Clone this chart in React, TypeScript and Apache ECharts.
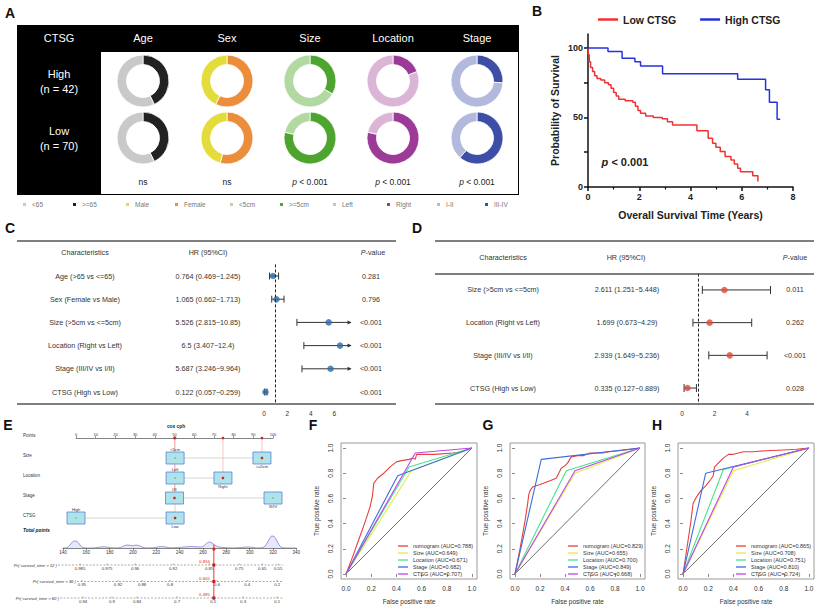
import React, { useEffect, useRef } from "react";
import * as echarts from "echarts";

const FONT = '"Liberation Sans", Arial, Helvetica, sans-serif';

/* ---------------- Panel A : clinical composition ---------------- */
const pieFactors = ["Age", "Sex", "Size", "Location", "Stage"];
const pieLevelLight = ["<65", "Male", "<5cm", "Left", "I-II"];
const pieLevelDark = [">=65", "Female", ">=5cm", "Right", "III-IV"];
const highDarkCounts = [18, 24, 14, 8, 11];
const highLightCounts = [24, 18, 28, 34, 31];
const lowDarkCounts = [30, 38, 55, 55, 43];
const lowLightCounts = [40, 32, 15, 15, 27];
const piePValues = ["ns", "ns", "< 0.001", "< 0.001", "< 0.001"];
const groupLabels = ["High", "Low"];
const groupSizes = ["(n = 42)", "(n = 70)"];

/* ---------------- Panel B : Kaplan-Meier ---------------- */
const lowTimes = [0, 0.02, 0.05, 0.1, 0.18, 0.26, 0.35, 0.5, 0.65, 0.8, 0.9, 1.0, 1.1, 1.2, 1.45, 1.75, 1.85, 1.95, 2.05, 2.25, 2.55, 2.9, 3.1, 3.3, 4.25, 4.69, 4.86, 4.99, 5.16, 5.35, 5.58, 5.71, 5.84, 5.95, 6.43, 6.63];
const lowSurv = [100, 95, 90, 86, 83, 80, 78, 77, 75, 73.5, 71, 68, 65.5, 63, 62, 61, 58, 55, 53, 51, 50, 49, 47, 44.5, 40.5, 35, 31.5, 28.5, 25.5, 22, 19.5, 16.5, 13.5, 11, 8, 4];
const highTimes = [0, 0.78, 1.33, 1.83, 2.05, 2.91, 5.84, 6.93, 7.08, 7.38, 7.5];
const highSurv = [100, 97.5, 92.5, 90, 87, 81.5, 77.5, 70, 61, 48.7, 48.7];
const kmXTicks = [0, 2, 4, 6, 8];
const kmYLabels = [0, 50, 100];
const kmYTicks = [0, 25, 50, 75, 100];

/* ---------------- Panel C : univariate Cox ---------------- */
const cChars = ["Age (>65 vs <=65)", "Sex (Female vs Male)", "Size (>5cm vs <=5cm)", "Location (Right vs Left)", "Stage (III/IV vs I/II)", "CTSG (High vs Low)"];
const cHR = [0.764, 1.065, 5.526, 6.5, 5.687, 0.122];
const cLow = [0.469, 0.662, 2.815, 3.407, 3.246, 0.057];
const cHigh = [1.245, 1.713, 10.85, 12.4, 9.964, 0.259];
const cP = ["0.281", "0.796", "<0.001", "<0.001", "<0.001", "<0.001"];
const cTicks = [0, 2, 4, 6];

/* ---------------- Panel D : multivariate Cox ---------------- */
const dChars = ["Size (>5cm vs <=5cm)", "Location (Right vs Left)", "Stage (III/IV vs I/II)", "CTSG (High vs Low)"];
const dHR = [2.611, 1.699, 2.939, 0.335];
const dLow = [1.251, 0.673, 1.649, 0.127];
const dHigh = [5.448, 4.29, 5.236, 0.889];
const dP = ["0.011", "0.262", "<0.001", "0.028"];
const dTicks = [0, 2, 4];

/* ---------------- Panel E : nomogram ---------------- */
const nomoRowNames = ["Points", "Size", "Location", "Stage", "CTSG"];
const nomoLevels = ["<5cm", ">=5cm", "Left", "Right", "I/II", "III/IV", "High", "Low"];
const nomoLevelFactor = [0, 0, 1, 1, 2, 2, 3, 3];
const nomoLevelPoints = [50.3, 94.4, 50.3, 74.6, 50, 100, 0, 50.3];
const nomoSelected = [0, 1, 0, 1, 1, 0, 0, 1];
const totalDensity = [[140, 0], [143, 0.3], [146, 3], [148, 6], [150, 7], [152, 6.5], [154, 4], [156, 1.2], [158, 0.2], [162, 0], [168, 0.2], [172, 1], [175, 1.2], [178, 0.8], [182, 0.1], [188, 0.2], [192, 2], [195, 3], [198, 2.5], [200, 2.3], [202, 2.8], [205, 2.5], [208, 0.8], [212, 0.1], [218, 0.3], [222, 1.2], [225, 1.4], [228, 1], [232, 0.2], [238, 0.4], [242, 0.8], [246, 1.2], [250, 1.5], [254, 1.2], [258, 1], [261, 2.5], [263, 4.5], [265, 6], [267, 5.5], [270, 3], [273, 1.2], [278, 0.4], [285, 0.1], [292, 0.4], [296, 0.8], [299, 1], [302, 0.6], [306, 0.1], [310, 0.2], [313, 1.5], [315, 5], [317, 9], [319, 12], [321, 11.5], [323, 8], [325, 3.5], [327, 0.8], [330, 0.1], [335, 0], [340, 0]];
const prLabels = ["Pr( survival_time > 12 )", "Pr( survival_time > 36 )", "Pr( survival_time > 60 )"];
const prTickPos = [
  [154.6, 177.8, 201.8, 234.4, 265.3, 291, 310.8, 324.5],
  [156.3, 187.2, 207.8, 231.8, 272.1, 297.9, 323.6],
  [157.2, 182, 203.5, 237.8, 268.7, 294.4, 323.6],
];
const prTickText = [
  ["0.985", "0.975", "0.96", "0.92", "0.85", "0.75", "0.65", "0.55"],
  ["0.95", "0.92", "0.88", "0.8", "0.6", "0.4", "0.2"],
  ["0.94", "0.9", "0.84", "0.7", "0.5", "0.3", "0.1"],
];
const prPredicted = ["0.834", "0.605", "0.495"];

/* ---------------- Panels F, G, H : ROC ---------------- */
const rocModels = ["nomogram", "Size", "Location", "Stage", "CTSG"];
const rocF_auc = ["0.788", "0.649", "0.671", "0.682", "0.707"];
const rocG_auc = ["0.829", "0.655", "0.700", "0.849", "0.668"];
const rocH_auc = ["0.865", "0.708", "0.751", "0.810", "0.724"];
const rocF_nomogram = [[0, 0], [0.05, 0.13], [0.1, 0.27], [0.15, 0.41], [0.19, 0.53], [0.21, 0.62], [0.22, 0.72], [0.25, 0.76], [0.3, 0.8], [0.35, 0.85], [0.4, 0.89], [0.44, 0.9], [0.5, 0.91], [0.53, 0.92], [0.55, 0.91], [0.56, 0.95], [0.7, 0.95], [0.85, 0.96], [0.92, 0.97], [1, 1]];
const rocF_size = [[0, 0], [0.52, 0.82], [1, 1]];
const rocF_location = [[0, 0], [0.5, 0.85], [1, 1]];
const rocF_stage = [[0, 0], [0.41, 0.78], [1, 1]];
const rocF_ctsg = [[0, 0], [0.55, 0.96], [1, 1]];
const rocG_nomogram = [[0, 0], [0.04, 0.2], [0.08, 0.42], [0.1, 0.55], [0.11, 0.63], [0.12, 0.66], [0.14, 0.69], [0.2, 0.71], [0.28, 0.74], [0.33, 0.76], [0.35, 0.8], [0.37, 0.84], [0.4, 0.86], [0.42, 0.88], [0.45, 0.93], [0.5, 0.94], [0.55, 0.94], [0.6, 0.96], [0.7, 0.96], [0.75, 0.97], [0.85, 0.98], [1, 1]];
const rocG_size = [[0, 0], [0.48, 0.8], [1, 1]];
const rocG_location = [[0, 0], [0.41, 0.82], [1, 1]];
const rocG_stage = [[0, 0], [0.21, 0.91], [1, 1]];
const rocG_ctsg = [[0, 0], [0.48, 0.82], [1, 1]];
const rocH_nomogram = [[0, 0], [0.03, 0.2], [0.06, 0.4], [0.08, 0.56], [0.1, 0.6], [0.14, 0.66], [0.18, 0.7], [0.22, 0.75], [0.24, 0.78], [0.25, 0.85], [0.27, 0.87], [0.3, 0.9], [0.32, 0.92], [0.36, 0.95], [0.4, 0.95], [0.44, 0.96], [0.48, 0.97], [0.55, 0.97], [0.6, 0.975], [0.7, 0.98], [0.8, 0.985], [0.9, 0.99], [1, 1]];
const rocH_size = [[0, 0], [0.4, 0.82], [1, 1]];
const rocH_location = [[0, 0], [0.32, 0.83], [1, 1]];
const rocH_stage = [[0, 0], [0.18, 0.8], [1, 1]];
const rocH_ctsg = [[0, 0], [0.4, 0.85], [1, 1]];
const rocDiagonal = [[0, 0], [1, 1]];
const rocTicks = [0, 0.2, 0.4, 0.6, 0.8, 1];

/* ---------------- styles / layout ---------------- */
const pieLightColors = ["#c9c9c9", "#e4dc3a", "#b2d9a2", "#dbb5d6", "#b2b9dc"];
const pieDarkColors = ["#222222", "#ec8d3b", "#4da42f", "#9b3a97", "#3d4ea6"];
const pieCols = [143, 227, 310, 393, 477];
const pieRows = [81, 138];
const pieLegendX = [21, 71, 124, 173, 228, 278, 331, 385, 435, 483];
const rocColors = ["#e8403c", "#dcee4a", "#44e48c", "#3a6ee0", "#c444e8"];

function buildOption(): any {
  const grid: any[] = [];
  const xAxis: any[] = [];
  const yAxis: any[] = [];
  const series: any[] = [];
  const legend: any[] = [];
  const graphic: any[] = [];

  const addText = (x: number, y: number, t: string, s: any = {}) => {
    const { align = "center", verticalAlign = "middle", z = 10, ...rest } = s;
    graphic.push({
      type: "text", x, y, z, silent: true,
      style: { text: t, x: 0, y: 0, fill: "#222", fontSize: 8, fontFamily: FONT, align, textAlign: align, verticalAlign, textVerticalAlign: verticalAlign, ...rest },
    });
  };
  const addLine = (x1: number, y1: number, x2: number, y2: number, stroke = "#444", lineWidth = 1, lineDash?: number[]) => {
    graphic.push({ type: "line", z: 8, silent: true, shape: { x1, y1, x2, y2 }, style: { stroke, lineWidth, lineDash } });
  };
  const addRect = (x: number, y: number, width: number, height: number, fill: string) => {
    graphic.push({ type: "rect", z: 0, silent: true, shape: { x, y, width, height }, style: { fill } });
  };
  const italicP = (size: number, extra: any = {}) => ({ i: { fontStyle: "italic", fontSize: size, fontFamily: FONT, fill: "#222", ...extra } });

  /* panel letters */
  ([["A", 10, 13], ["B", 537, 11], ["C", 10, 228], ["D", 417, 228], ["E", 8, 425], ["F", 313, 425], ["G", 488, 425], ["H", 657, 425]] as any[]).forEach(([t, x, y]) =>
    addText(x, y, t, { fontSize: 14, fontWeight: "bold", fill: "#111" })
  );

  /* ================= A ================= */
  addRect(17, 25, 502, 170, "#000");
  addRect(101, 52, 417, 142, "#fff");
  addText(59, 38, "CTSG", { fill: "#fff", fontSize: 11 });
  pieFactors.forEach((f, i) => addText(pieCols[i], 38, f, { fill: "#fff", fontSize: 11 }));
  groupLabels.forEach((g, r) => {
    addText(59, pieRows[r] - 7, g, { fill: "#fff", fontSize: 11 });
    addText(59, pieRows[r] + 8, groupSizes[r], { fill: "#fff", fontSize: 11 });
  });
  const darkRows = [highDarkCounts, lowDarkCounts];
  const lightRows = [highLightCounts, lowLightCounts];
  pieFactors.forEach((f, i) => {
    [0, 1].forEach((r) => {
      series.push({
        type: "pie", name: f + " " + groupLabels[r], center: [pieCols[i], pieRows[r]], radius: [16.5, 26],
        startAngle: 90, clockwise: true, silent: true, z: 2,
        label: { show: false }, labelLine: { show: false }, emphasis: { disabled: true },
        itemStyle: { borderColor: "#fff", borderWidth: 0.8 },
        data: [
          { name: pieLevelDark[i], value: darkRows[r][i], itemStyle: { color: pieDarkColors[i] } },
          { name: pieLevelLight[i], value: lightRows[r][i], itemStyle: { color: pieLightColors[i] } },
        ],
      });
    });
    const pv = piePValues[i];
    if (pv === "ns") addText(pieCols[i], 182, "ns", { fontSize: 8.5 });
    else addText(pieCols[i], 182, "{i|p} " + pv, { fontSize: 8.5, rich: italicP(8.5) });
  });
  const legendNames: string[] = [];
  pieFactors.forEach((_, i) => { legendNames.push(pieLevelLight[i]); legendNames.push(pieLevelDark[i]); });
  legendNames.forEach((n, k) => {
    legend.push({
      left: pieLegendX[k], top: 201, padding: 0, icon: "rect", itemWidth: 5, itemHeight: 5, selectedMode: false,
      data: [n], textStyle: { fontSize: 6.5, color: "#777", fontFamily: FONT },
    });
  });

  /* ================= B (grid 0) ================= */
  grid.push({ left: 588, top: 34, width: 205, height: 153 });
  xAxis.push({
    gridIndex: 0, type: "value", min: 0, max: 8, interval: 2,
    axisLine: { lineStyle: { color: "#111", width: 1.5 } },
    axisTick: { length: 4, lineStyle: { color: "#111", width: 1.5 } },
    minorTick: { show: true, splitNumber: 2, length: 2.5, lineStyle: { color: "#111", width: 1.2 } },
    splitLine: { show: false },
    axisLabel: { fontSize: 9, fontWeight: "bold", color: "#222", margin: 5, customValues: kmXTicks },
    name: "Overall Survival Time (Years)", nameLocation: "middle", nameGap: 22,
    nameTextStyle: { fontSize: 10.5, fontWeight: "bold", color: "#222" },
  });
  yAxis.push({
    gridIndex: 0, type: "value", min: 0, max: 110,
    axisLine: { show: true, lineStyle: { color: "#111", width: 1.5 } },
    axisTick: { show: true, length: 4, customValues: kmYTicks, lineStyle: { color: "#111", width: 1.5 } },
    splitLine: { show: false },
    axisLabel: { fontSize: 9, fontWeight: "bold", color: "#222", margin: 5, customValues: kmYLabels },
    name: "Probability of Survival", nameLocation: "middle", nameGap: 28, nameRotate: 90,
    nameTextStyle: { fontSize: 10.5, fontWeight: "bold", color: "#222" },
  });
  series.push({
    type: "line", name: "Low CTSG", xAxisIndex: 0, yAxisIndex: 0, step: "end", symbol: "none", silent: true,
    color: "#f03232", lineStyle: { width: 1.5 }, data: lowTimes.map((t, i) => [t, lowSurv[i]]),
  });
  series.push({
    type: "line", name: "High CTSG", xAxisIndex: 0, yAxisIndex: 0, step: "end", symbol: "none", silent: true,
    color: "#2432e0", lineStyle: { width: 1.5 }, data: highTimes.map((t, i) => [t, highSurv[i]]),
  });
  legend.push({
    left: 598, top: 14, padding: 0, icon: "rect", itemWidth: 20, itemHeight: 2.5, itemGap: 24, selectedMode: false,
    data: ["Low CTSG", "High CTSG"], textStyle: { fontSize: 10.5, fontWeight: "bold", color: "#222", fontFamily: FONT },
  });
  addText(625, 162, "{i|p} < 0.001", { fontSize: 11, fontWeight: "bold", rich: italicP(11, { fontWeight: "bold" }) });

  /* ================= forest helper ================= */
  const makeForest = (gi: number, left: number, top: number, pxPerUnit: number, axisMax: number, rowH: number,
    chars: string[], hr: number[], lo: number[], hi: number[], ticks: number[], color: string, capH: number) => {
    grid.push({ left, top, width: axisMax * pxPerUnit, height: rowH * chars.length });
    xAxis.push({
      gridIndex: gi, type: "value", min: 0, max: axisMax,
      axisLine: { show: false }, axisTick: { show: false }, splitLine: { show: false },
      axisLabel: { fontSize: 6.5, color: "#333", margin: 6, customValues: ticks },
    });
    yAxis.push({ gridIndex: gi, type: "category", data: chars, inverse: true, show: false });
    series.push({
      type: "custom", xAxisIndex: gi, yAxisIndex: gi, clip: false, silent: true, z: 3,
      encode: { x: [1, 2], y: 0 },
      data: lo.map((l, i) => [i, l, hi[i]]),
      renderItem: (params: any, api: any) => {
        const cat = api.value(0);
        const l = api.value(1);
        const h = api.value(2);
        const trunc = h > axisMax;
        const a = api.coord([l, cat]);
        const b = api.coord([trunc ? axisMax : h, cat]);
        const st = { stroke: "#333", lineWidth: 1 };
        const kids: any[] = [
          { type: "line", shape: { x1: a[0], y1: a[1], x2: b[0], y2: b[1] }, style: st },
          { type: "line", shape: { x1: a[0], y1: a[1] - capH, x2: a[0], y2: a[1] + capH }, style: st },
        ];
        if (trunc) kids.push({ type: "polygon", shape: { points: [[b[0] + 1, b[1]], [b[0] - 3, b[1] - 2], [b[0] - 3, b[1] + 2]] }, style: { fill: "#333" } });
        else kids.push({ type: "line", shape: { x1: b[0], y1: b[1] - capH, x2: b[0], y2: b[1] + capH }, style: st });
        return { type: "group", children: kids };
      },
    });
    series.push({
      type: "scatter", xAxisIndex: gi, yAxisIndex: gi, silent: true, z: 4, symbolSize: 6.5,
      itemStyle: { color }, data: hr.map((v, i) => [v, i]),
      markLine: {
        silent: true, symbol: "none", label: { show: false },
        lineStyle: { type: [3, 2], color: "#222", width: 1 }, data: [{ xAxis: 1 }],
      },
    });
  };

  /* ================= C (grid 1) ================= */
  const cTop = 264.4, cRowH = 23.2;
  makeForest(1, 264, cTop, 11.7, 7.4, cRowH, cChars, cHR, cLow, cHigh, cTicks, "#2d6aa6", 3.5);
  addLine(17, 241, 396, 241, "#555", 1.5);
  addLine(17, 404, 396, 404, "#555", 1.5);
  addText(85, 252, "Characteristics", { fontSize: 7.2, fill: "#333" });
  addText(208, 252, "HR (95%CI)", { fontSize: 7.2, fill: "#333" });
  addText(373, 252, "{i|P}-value", { fontSize: 7.2, fill: "#333", rich: italicP(7.2, { fill: "#333" }) });
  cChars.forEach((c, i) => {
    const y = cTop + (i + 0.5) * cRowH;
    addText(85, y, c, { fontSize: 7.2, fill: "#333" });
    addText(208, y, `${cHR[i]} (${cLow[i]}\u2212${cHigh[i]})`, { fontSize: 7.2, fill: "#333" });
    addText(371, y, cP[i], { fontSize: 7.2, fill: "#333" });
  });

  /* ================= D (grid 2) ================= */
  const dTop = 273.6, dRowH = 32.7;
  makeForest(2, 682, dTop, 16.25, 5.6, dRowH, dChars, dHR, dLow, dHigh, dTicks, "#e0493a", 4);
  addLine(435, 241, 814, 241, "#555", 1.5);
  addLine(435, 274, 814, 274, "#555", 1.5);
  addLine(435, 404, 814, 404, "#555", 1.5);
  addText(503, 257, "Characteristics", { fontSize: 7.2, fill: "#333" });
  addText(626, 257, "HR (95%CI)", { fontSize: 7.2, fill: "#333" });
  addText(795, 257, "{i|P}-value", { fontSize: 7.2, fill: "#333", rich: italicP(7.2, { fill: "#333" }) });
  dChars.forEach((c, i) => {
    const y = dTop + (i + 0.5) * dRowH;
    addText(503, y, c, { fontSize: 7.2, fill: "#333" });
    addText(627, y, `${dHR[i]} (${dLow[i]}\u2212${dHigh[i]})`, { fontSize: 7.2, fill: "#333" });
    addText(795, y, dP[i], { fontSize: 7.2, fill: "#333" });
  });

  /* ================= E : nomogram ================= */
  grid.push({ left: 76, top: 438, width: 197, height: 80 });
  xAxis.push({
    gridIndex: 3, type: "value", position: "top", min: 0, max: 100, interval: 10,
    axisLine: { show: true, lineStyle: { color: "#333", width: 0.6 } },
    axisTick: { show: true, length: 2, lineStyle: { color: "#333", width: 0.5 } },
    splitLine: { show: false },
    axisLabel: { fontSize: 4, color: "#333", margin: 1.5 },
  });
  yAxis.push({
    gridIndex: 3, type: "value", min: 0, max: 4, interval: 1, inverse: true,
    axisLine: { show: false }, axisTick: { show: false }, splitLine: { show: false },
    axisLabel: { show: true, formatter: (v: number) => nomoRowNames[v] ?? "", align: "left", margin: 53, fontSize: 4.5, color: "#333", verticalAlign: "bottom" },
  });
  series.push({
    type: "custom", xAxisIndex: 3, yAxisIndex: 3, clip: false, silent: true, z: 3,
    data: nomoLevelPoints.map((p, i) => [p, nomoLevelFactor[i] + 1]),
    renderItem: (params: any, api: any) => {
      const i = params.dataIndex;
      const row = api.value(1);
      const c = api.coord([api.value(0), row]);
      const sel = nomoSelected[i] === 1;
      const second = i > 0 && nomoLevelFactor[i - 1] === nomoLevelFactor[i];
      const kids: any[] = [];
      if (second) {
        const p = api.coord([nomoLevelPoints[i - 1], row]);
        kids.push({ type: "line", z2: 1, shape: { x1: p[0], y1: p[1], x2: c[0], y2: c[1] }, style: { stroke: "#bbbbbb", lineWidth: 0.6 } });
      }
      if (sel) {
        const top = api.coord([api.value(0), 0]);
        kids.push({ type: "line", z2: 2, shape: { x1: top[0], y1: top[1], x2: c[0], y2: c[1] }, style: { stroke: "#f0a0a0", lineWidth: 0.6 } });
        kids.push({ type: "circle", z2: 9, shape: { cx: top[0], cy: top[1], r: 1.3 }, style: { fill: "#d62020" } });
      }
      kids.push({ type: "rect", z2: 5, shape: { x: c[0] - 9, y: c[1] - 6, width: 18, height: 12 }, style: { fill: "#aee3ea", stroke: "#5b80d8", lineWidth: 0.8 } });
      kids.push({ type: "circle", z2: 6, shape: { cx: c[0], cy: c[1], r: sel ? 1.3 : 0.6 }, style: { fill: sel ? "#d62020" : "#3c9b5a" } });
      const va = second ? "top" : "bottom";
      kids.push({
        type: "text", z2: 6,
        style: { text: nomoLevels[i], x: c[0], y: second ? c[1] + 6.5 : c[1] - 6.5, fontSize: 4, fontFamily: FONT, fill: "#333", align: "center", textAlign: "center", verticalAlign: va, textVerticalAlign: va },
      });
      return { type: "group", children: kids };
    },
  });
  addText(176, 426, "cox cph", { fontSize: 4.8, fontWeight: "bold" });
  addText(23, 530, "Total points", { align: "left", fontSize: 4.8, fontWeight: "bold", fontStyle: "italic" });

  grid.push({ left: 63, top: 528, width: 233.3, height: 20 });
  xAxis.push({
    gridIndex: 4, type: "value", min: 140, max: 340, interval: 20,
    axisLine: { show: true, lineStyle: { color: "#333", width: 0.6 } },
    axisTick: { show: true, length: 2, lineStyle: { color: "#333", width: 0.5 } },
    splitLine: { show: false },
    axisLabel: { fontSize: 4.5, color: "#333", margin: 2 },
  });
  yAxis.push({ gridIndex: 4, type: "value", min: 0, max: 20, show: false });
  series.push({
    type: "line", xAxisIndex: 4, yAxisIndex: 4, smooth: 0.3, symbol: "none", silent: true, z: 2,
    lineStyle: { color: "#7070d8", width: 0.7 }, areaStyle: { color: "rgba(190,190,245,0.5)" },
    data: totalDensity,
  });

  const totalSelected = nomoLevelPoints.reduce((s, p, i) => s + (nomoSelected[i] ? p : 0), 0);
  const prTop = 548.5, prRowH = 16.5;
  grid.push({ left: 63, top: prTop, width: 233.3, height: prRowH * 3 });
  xAxis.push({ gridIndex: 5, type: "value", min: 140, max: 340, show: false });
  yAxis.push({ gridIndex: 5, type: "value", min: -1, max: 2, inverse: true, show: false });
  const prTickData: number[][] = [];
  const prTickLabel: string[] = [];
  prTickPos.forEach((row, r) => row.forEach((p, k) => { prTickData.push([p, r]); prTickLabel.push(prTickText[r][k]); }));
  series.push({
    type: "custom", xAxisIndex: 5, yAxisIndex: 5, clip: false, silent: true, z: 3,
    data: prTickData,
    renderItem: (params: any, api: any) => {
      const c = api.coord([api.value(0), api.value(1)]);
      return {
        type: "group",
        children: [
          { type: "line", shape: { x1: c[0], y1: c[1] - 1.5, x2: c[0], y2: c[1] }, style: { stroke: "#444", lineWidth: 0.5 } },
          { type: "text", style: { text: prTickLabel[params.dataIndex], x: c[0], y: c[1] + 1, fontSize: 4.3, fontFamily: FONT, fill: "#333", align: "center", textAlign: "center", verticalAlign: "top", textVerticalAlign: "top" } },
        ],
      };
    },
  });
  series.push({
    type: "custom", xAxisIndex: 5, yAxisIndex: 5, clip: false, silent: true, z: 5,
    data: prPredicted.map((_, r) => [totalSelected, r]),
    renderItem: (params: any, api: any) => {
      const r = params.dataIndex;
      const c = api.coord([api.value(0), api.value(1)]);
      const kids: any[] = [];
      if (r === 0) {
        const t = api.coord([api.value(0), -1]);
        const b = api.coord([api.value(0), prPredicted.length - 1]);
        kids.push({ type: "line", shape: { x1: t[0], y1: t[1] - 4, x2: b[0], y2: b[1] + 2 }, style: { stroke: "#e82020", lineWidth: 0.9 } });
        kids.push({ type: "circle", shape: { cx: t[0], cy: t[1], r: 1.6 }, style: { fill: "#e82020" } });
      }
      kids.push({ type: "rect", shape: { x: c[0] - 1.5, y: c[1] - 1.5, width: 3, height: 3 }, style: { fill: "#c81818" } });
      kids.push({ type: "text", style: { text: prPredicted[r], x: c[0] - 4, y: c[1] - 1.5, fontSize: 4.3, fontFamily: FONT, fill: "#e82020", align: "right", textAlign: "right", verticalAlign: "bottom", textVerticalAlign: "bottom" } });
      return { type: "group", children: kids };
    },
  });
  const prLabelRight = [57, 76, 59];
  prLabels.forEach((lab, r) => {
    const y = prTop + (r + 1) * prRowH;
    addText(prLabelRight[r], y, lab, { align: "right", fontSize: 4.2, fontStyle: "italic", fill: "#333" });
    addLine(prLabelRight[r] + 1, y, 283, y, "#555", 0.5, [2, 1.5]);
  });

  /* ================= F, G, H : ROC ================= */
  const rocPanels = [
    { left: 341, width: 136, legendLeft: 398, auc: rocF_auc, curves: [rocF_nomogram, rocF_size, rocF_location, rocF_stage, rocF_ctsg] },
    { left: 510, width: 135, legendLeft: 568, auc: rocG_auc, curves: [rocG_nomogram, rocG_size, rocG_location, rocG_stage, rocG_ctsg] },
    { left: 678, width: 136, legendLeft: 736, auc: rocH_auc, curves: [rocH_nomogram, rocH_size, rocH_location, rocH_stage, rocH_ctsg] },
  ];
  rocPanels.forEach((p, k) => {
    const gi = 6 + k;
    grid.push({ left: p.left, top: 443, width: p.width, height: 136, show: true, borderColor: "#808080", borderWidth: 0.8 });
    xAxis.push({
      gridIndex: gi, type: "value", min: -0.04, max: 1.04,
      axisLine: { show: false }, splitLine: { show: false },
      axisTick: { show: true, length: 3, customValues: rocTicks, lineStyle: { color: "#555", width: 0.7 } },
      axisLabel: { customValues: rocTicks, formatter: (v: number) => v.toFixed(1), fontSize: 6.5, color: "#333", margin: 6 },
      name: "False positive rate", nameLocation: "middle", nameGap: 19, nameTextStyle: { fontSize: 6.5, color: "#333" },
    });
    yAxis.push({
      gridIndex: gi, type: "value", min: -0.04, max: 1.04,
      axisLine: { show: false }, splitLine: { show: false },
      axisTick: { show: true, length: 3, customValues: rocTicks, lineStyle: { color: "#555", width: 0.7 } },
      axisLabel: { customValues: rocTicks, formatter: (v: number) => v.toFixed(1), fontSize: 6.5, color: "#333", margin: 7, rotate: 90 },
      name: "True positive rate", nameLocation: "middle", nameGap: 21, nameRotate: 90, nameTextStyle: { fontSize: 6.5, color: "#333" },
    });
    series.push({
      type: "line", xAxisIndex: gi, yAxisIndex: gi, symbol: "none", silent: true, z: 2,
      lineStyle: { color: "#4a4a4a", width: 0.8 }, data: rocDiagonal,
    });
    const names: string[] = [];
    p.curves.forEach((curve, m) => {
      const name = `${rocModels[m]} (AUC=${p.auc[m]})`;
      names.push(name);
      series.push({
        type: "line", name, xAxisIndex: gi, yAxisIndex: gi, symbol: "none", silent: true, z: 3,
        color: rocColors[m], lineStyle: { width: 1.1 }, data: curve,
      });
    });
    legend.push({
      left: p.legendLeft, top: 543, orient: "vertical", padding: 0, icon: "rect", itemWidth: 10, itemHeight: 1.3, itemGap: 1,
      selectedMode: false, data: names, textStyle: { fontSize: 5.5, lineHeight: 5.5, color: "#333", fontFamily: FONT },
    });
  });

  return {
    animation: false,
    backgroundColor: "#fff",
    textStyle: { fontFamily: FONT },
    grid, xAxis, yAxis, series, legend, graphic,
  };
}

export default function App() {
  const ref = useRef<HTMLDivElement>(null);
  useEffect(() => {
    document.body.style.margin = "0";
    const chart = echarts.init(ref.current as HTMLDivElement, null, { renderer: "svg", width: 823, height: 613 });
    chart.setOption(buildOption());
    return () => chart.dispose();
  }, []);
  return <div ref={ref} style={{ width: 823, height: 613, background: "#fff" }} />;
}
